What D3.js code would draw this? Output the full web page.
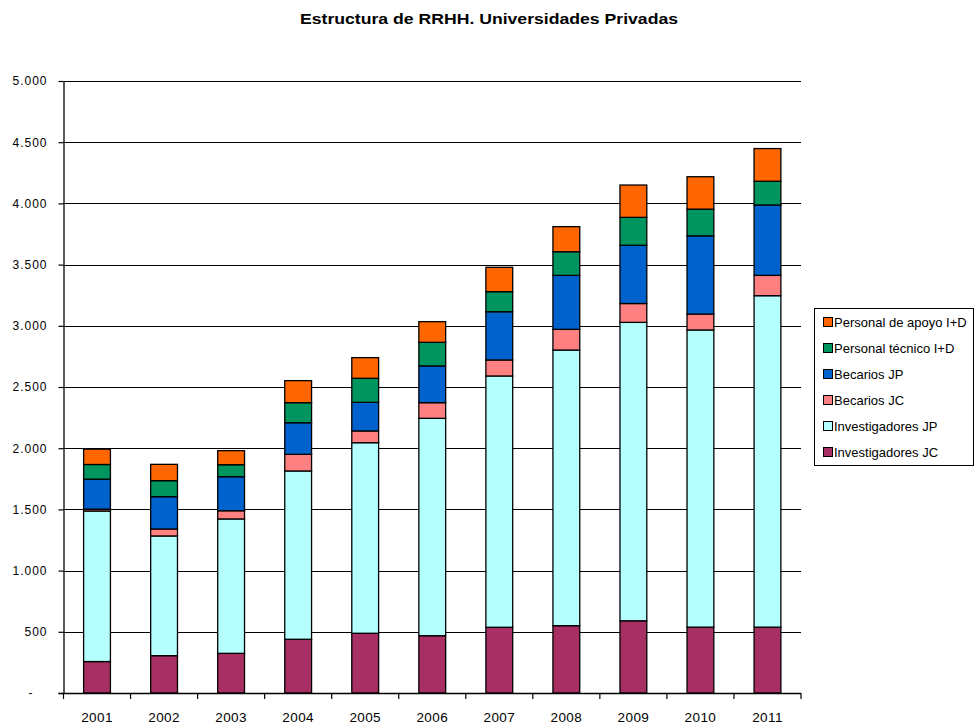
<!DOCTYPE html>
<html>
<head>
<meta charset="utf-8">
<script src="https://cdn.jsdelivr.net/npm/d3@7"></script>
<style>
  body { margin: 0; background: #fff; }
  svg { display: block; }
  text { font-family: "Liberation Sans", Arial, sans-serif; fill: #000; }
</style>
</head>
<body>
<svg id="chart" width="976" height="727"></svg>
<script>
// Years on the category axis
const years = ["2001", "2002", "2003", "2004", "2005", "2006", "2007", "2008", "2009", "2010", "2011"];

// Staff counts per year, one array per group (stacked bottom to top)
const investigadoresJC = [257, 305, 324, 439, 488, 468, 537, 550, 590, 538, 538];
const investigadoresJP = [1230, 978, 1098, 1375, 1557, 1776, 2053, 2252, 2438, 2428, 2708];
const becariosJC       = [15, 57, 67, 136, 96, 128, 131, 169, 154, 130, 166];
const becariosJP       = [245, 264, 278, 258, 234, 300, 394, 441, 476, 639, 575];
const personalTecnico  = [120, 131, 98, 164, 196, 193, 164, 193, 228, 218, 194];
const personalApoyo    = [125, 133, 115, 180, 169, 169, 199, 205, 264, 265, 267];

const seriesNames = ["Investigadores JC", "Investigadores JP", "Becarios JC", "Becarios JP",
                     "Personal técnico I+D", "Personal de apoyo I+D"];
const seriesValues = [investigadoresJC, investigadoresJP, becariosJC, becariosJP, personalTecnico, personalApoyo];
const seriesColors = ["#A82F63", "#B6FFFF", "#FF8080", "#0062CC", "#00955F", "#FF6600"];

const yTicks = [0, 500, 1000, 1500, 2000, 2500, 3000, 3500, 4000, 4500, 5000];
const chartTitle = "Estructura de RRHH. Universidades Privadas";

// Rows for d3.stack
const rows = years.map((yr, i) => {
  const r = { year: yr };
  seriesNames.forEach((name, k) => { r[name] = seriesValues[k][i]; });
  return r;
});

const svg = d3.select("#chart");
const plotLeft = 63.5, plotRight = 801, plotBottom = 693, plotTop = 81;

const x = d3.scaleBand().domain(years).range([plotLeft, plotRight]).paddingInner(0.6).paddingOuter(0.3);
const y = d3.scaleLinear().domain([0, 5000]).range([plotBottom, plotTop]);

const es = d3.formatLocale({ decimal: ",", thousands: ".", grouping: [3], currency: ["", " €"] });
const fmt = es.format(",d");

// Title
svg.append("text")
  .attr("x", 489).attr("y", 24)
  .attr("text-anchor", "middle")
  .attr("font-size", 15.5).attr("font-weight", "bold")
  .attr("textLength", 378).attr("lengthAdjust", "spacingAndGlyphs")
  .text(chartTitle);

// Horizontal gridlines
svg.append("g")
  .selectAll("line")
  .data(yTicks.filter(d => d > 0))
  .join("line")
  .attr("x1", plotLeft).attr("x2", plotRight)
  .attr("y1", d => Math.round(y(d)) + 0.5).attr("y2", d => Math.round(y(d)) + 0.5)
  .attr("stroke", "#000").attr("stroke-width", 1.2);

// Stacked bars
const stacked = d3.stack().keys(seriesNames)(rows);
svg.append("g")
  .selectAll("g")
  .data(stacked)
  .join("g")
  .attr("fill", (d, i) => seriesColors[i])
  .selectAll("rect")
  .data(d => d)
  .join("rect")
  .attr("x", d => x(d.data.year))
  .attr("width", x.bandwidth())
  .attr("y", d => y(d[1]))
  .attr("height", d => y(d[0]) - y(d[1]))
  .attr("stroke", "#000").attr("stroke-width", 1.3);

// Y axis
const yAxis = d3.axisLeft(y).tickValues(yTicks).tickSize(5).tickSizeOuter(0).tickPadding(11)
  .tickFormat(d => d === 0 ? "-" : fmt(d));
const gy = svg.append("g").attr("transform", `translate(${plotLeft},0)`).call(yAxis);
gy.select(".domain").attr("stroke", "#000").attr("stroke-width", 1.3);
gy.selectAll(".tick line").attr("stroke", "#000").attr("stroke-width", 1.2);
gy.selectAll(".tick text")
  .attr("font-size", 12).attr("font-family", "'Liberation Sans', Arial, sans-serif")
  .attr("letter-spacing", 1).attr("fill", "#000")
  .attr("dx", d => d === 0 ? -14 : 0);

// X axis: labels centred under bars, tick marks on category boundaries
const xAxis = d3.axisBottom(x).tickSize(0).tickPadding(19);
const gx = svg.append("g").attr("transform", `translate(0,${plotBottom})`).call(xAxis);
gx.select(".domain").remove();
gx.selectAll(".tick text")
  .attr("font-size", 13.5).attr("font-family", "'Liberation Sans', Arial, sans-serif")
  .attr("letter-spacing", 0.4).attr("fill", "#000");

svg.append("line")
  .attr("x1", plotLeft - 5).attr("x2", plotRight)
  .attr("y1", plotBottom + 0.5).attr("y2", plotBottom + 0.5)
  .attr("stroke", "#000").attr("stroke-width", 1.3);

svg.append("g")
  .selectAll("line")
  .data(d3.range(years.length + 1))
  .join("line")
  .attr("x1", i => plotLeft + i * x.step()).attr("x2", i => plotLeft + i * x.step())
  .attr("y1", plotBottom).attr("y2", plotBottom + 6)
  .attr("stroke", "#000").attr("stroke-width", 1.2);

// Legend (top entry is the top of the stack)
const legend = svg.append("g");
legend.append("rect")
  .attr("x", 814.5).attr("y", 308.5).attr("width", 159).attr("height", 157)
  .attr("fill", "#fff").attr("stroke", "#000").attr("stroke-width", 1);

const legendOrder = d3.range(seriesNames.length).reverse();
const items = legend.selectAll("g.item")
  .data(legendOrder)
  .join("g")
  .attr("class", "item")
  .attr("transform", (k, i) => `translate(823,${322 + i * 26})`);
items.append("rect")
  .attr("x", 0.5).attr("y", -4.5).attr("width", 9).attr("height", 9)
  .attr("fill", k => seriesColors[k]).attr("stroke", "#000").attr("stroke-width", 1);
items.append("text")
  .attr("x", 11).attr("y", 0).attr("dy", "0.36em")
  .attr("font-size", 13)
  .text(k => seriesNames[k]);
</script>
</body>
</html>
